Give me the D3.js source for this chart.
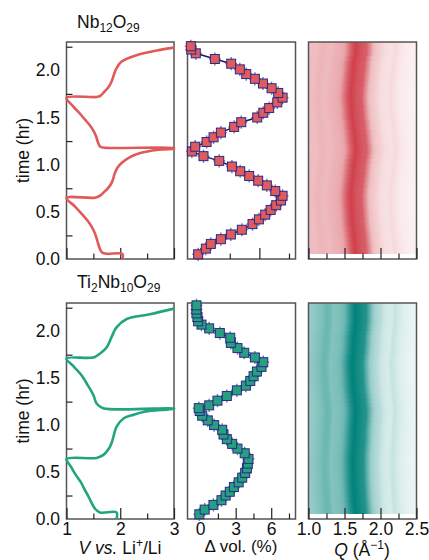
<!DOCTYPE html>
<html>
<head>
<meta charset="utf-8">
<script src="https://cdn.jsdelivr.net/npm/d3@7"></script>
<style>
  body { margin: 0; background: #fff; }
  svg { display: block; font-family: "Liberation Sans", Arial, sans-serif; }
</style>
</head>
<body>
<div id="figure"></div>
<script>
// tick values
const timeTicks = [0, 0.5, 1.0, 1.5, 2.0];
const timeMinor = [0.25, 0.75, 1.25, 1.75, 2.25];
const voltTicks = [1, 2, 3];
const voltMinor = [1.5, 2.5];
const volTicksTop = [0, 5];
const volMinorTop = [2.5, 7.5];
const volTicks = [0, 3, 6];
const volMinor = [1.5, 4.5, 7.5];
const qTicks = [1.0, 1.5, 2.0, 2.5];
const qMinor = [1.25, 1.75, 2.25];

// voltage profiles, [V, time hr]
const nbVoltage = [
  [2.04, 0.0], [2.04, 0.053], [1.75, 0.055], [1.66, 0.07], [1.62, 0.11], [1.57, 0.2], [1.53, 0.27],
  [1.47, 0.34], [1.40, 0.40], [1.28, 0.48], [1.15, 0.56], [1.0, 0.647],
  [1.53, 0.65], [1.62, 0.67], [1.70, 0.71], [1.80, 0.77], [1.85, 0.82], [1.90, 0.91], [1.95, 0.97],
  [2.03, 1.02], [2.15, 1.07], [2.3, 1.11], [2.55, 1.145], [2.8, 1.162], [3.0, 1.17],
  [3.0, 1.175], [1.75, 1.178], [1.63, 1.19], [1.59, 1.23], [1.55, 1.30], [1.50, 1.36], [1.43, 1.42],
  [1.34, 1.48], [1.25, 1.54], [1.12, 1.62], [1.0, 1.71],
  [1.56, 1.717], [1.63, 1.73], [1.70, 1.77], [1.78, 1.82], [1.83, 1.87], [1.88, 1.95], [1.92, 2.01],
  [2.02, 2.09], [2.3, 2.16], [2.68, 2.21], [3.0, 2.24]
];
const tiVoltage = [
  [1.93, 0.0], [1.93, 0.07], [1.62, 0.07], [1.53, 0.11], [1.46, 0.18], [1.40, 0.25], [1.33, 0.32],
  [1.28, 0.38], [1.16, 0.48], [1.08, 0.56], [1.0, 0.64],
  [1.56, 0.65], [1.68, 0.68], [1.75, 0.72], [1.81, 0.77], [1.85, 0.83], [1.87, 0.87], [1.93, 0.98],
  [2.06, 1.07], [2.25, 1.11], [2.43, 1.14], [2.75, 1.16], [3.0, 1.175],
  [3.0, 1.178], [1.68, 1.18], [1.56, 1.23], [1.50, 1.32], [1.40, 1.42], [1.28, 1.53], [1.14, 1.62], [1.0, 1.71],
  [1.50, 1.72], [1.62, 1.76], [1.75, 1.83], [1.84, 1.94], [1.93, 2.04], [2.12, 2.13], [2.55, 2.18], [3.0, 2.24]
];

// volume change, [time hr, dvol %]
const nbVolume = [
  [0.05, -0.17], [0.11, 0.48], [0.16, 0.90], [0.21, 1.75], [0.26, 2.59], [0.31, 3.52], [0.37, 4.42],
  [0.42, 4.96], [0.47, 5.49], [0.52, 5.95], [0.57, 6.42], [0.62, 6.82], [0.67, 6.96], [0.72, 6.34],
  [0.78, 5.63], [0.83, 4.90], [0.88, 4.14], [0.93, 3.38], [0.98, 2.68], [1.04, 1.61], [1.09, 0.28],
  [1.14, -0.70], [1.19, -0.42], [1.24, 0.54], [1.29, 1.13], [1.34, 1.75], [1.40, 2.87], [1.45, 3.47],
  [1.50, 4.82], [1.55, 5.33], [1.60, 5.83], [1.66, 6.51], [1.71, 6.96], [1.76, 6.59], [1.81, 6.03],
  [1.86, 5.30], [1.91, 4.62], [1.96, 3.89], [2.01, 3.35], [2.07, 2.62], [2.12, 1.24], [2.18, -0.37],
  [2.22, -0.75], [2.255, -0.79]
];
const tiVolume = [
  [0.05, -0.07], [0.10, 0.38], [0.15, 1.12], [0.20, 1.80], [0.25, 2.15], [0.29, 2.50], [0.34, 2.85],
  [0.39, 3.25], [0.44, 3.55], [0.49, 3.80], [0.54, 3.95], [0.59, 4.02], [0.64, 4.08], [0.70, 3.76],
  [0.75, 3.15], [0.80, 2.70], [0.85, 2.25], [0.90, 1.97], [0.95, 1.86], [1.00, 1.18], [1.05, 0.64],
  [1.10, 0.17], [1.15, -0.04], [1.18, -0.12], [1.21, 0.76], [1.26, 1.46], [1.31, 2.25], [1.37, 3.10],
  [1.42, 3.86], [1.47, 4.23], [1.52, 4.51], [1.57, 4.79], [1.62, 5.18], [1.67, 5.33], [1.72, 4.62],
  [1.77, 3.72], [1.82, 3.15], [1.875, 2.59], [1.93, 2.54], [1.98, 1.66], [2.03, 0.76], [2.07, 0.11],
  [2.105, -0.17], [2.15, -0.23], [2.19, -0.31], [2.23, -0.31], [2.275, -0.31]
];

// diffraction intensity (relative) across Q
const qGrid = [1.00, 1.05, 1.10, 1.15, 1.20, 1.25, 1.30, 1.35, 1.40, 1.45, 1.50, 1.55, 1.60, 1.65, 1.70,
  1.75, 1.80, 1.85, 1.90, 1.95, 2.00, 2.05, 2.10, 2.15, 2.20, 2.25, 2.30, 2.35, 2.40, 2.45, 2.50];
const nbIntensity = [0.32, 0.34, 0.33, 0.36, 0.38, 0.36, 0.35, 0.38, 0.40, 0.42, 0.47, 0.68, 0.86, 0.97, 0.90,
  0.85, 0.82, 0.58, 0.34, 0.28, 0.24, 0.18, 0.16, 0.15, 0.19, 0.15, 0.12, 0.10, 0.09, 0.08, 0.07];
const tiIntensity = [0.40, 0.42, 0.45, 0.48, 0.52, 0.58, 0.56, 0.48, 0.50, 0.52, 0.58, 0.74, 0.90, 1.0, 0.95,
  0.90, 0.86, 0.62, 0.40, 0.33, 0.28, 0.20, 0.17, 0.16, 0.23, 0.18, 0.14, 0.12, 0.10, 0.09, 0.08];

const width = 429;
const height = 560;
const cols = [{ x0: 66.5, x1: 174 }, { x0: 187.5, x1: 295.5 }, { x0: 308.5, x1: 416.5 }];
const rows = [{ y0: 42, y1: 259 }, { y0: 303, y1: 519 }];
const qShiftPerVol = 0.009;

const panels = [
  {
    title: [["Nb", 0], ["12", 1], ["O", 0], ["29", 1]], titleY: 28,
    line: "#e05a5a", fill: "#e05c5c", heat: "#cf3a46",
    voltage: nbVoltage, volume: nbVolume, intensity: nbIntensity,
    volMajor: volTicksTop, volMinor: volMinorTop, labels: false
  },
  {
    title: [["Ti", 0], ["2", 1], ["Nb", 0], ["10", 1], ["O", 0], ["29", 1]], titleY: 288,
    line: "#22a57f", fill: "#26a07e", heat: "#00827a",
    voltage: tiVoltage, volume: tiVolume, intensity: tiIntensity,
    volMajor: volTicks, volMinor: volMinor, labels: true
  }
];

const svg = d3.select("#figure").append("svg")
  .attr("width", width).attr("height", height);
const defs = svg.append("defs");

const xV = d3.scaleLinear().domain([1, 3]).range([cols[0].x0, cols[0].x1]);
const xVol = d3.scaleLinear().domain([-1.07, 8.05]).range([cols[1].x0, cols[1].x1]);
const xQ = d3.scaleLinear().domain([1.0, 2.5]).range([cols[2].x0, cols[2].x1]);

function styleAxis(g) {
  g.select(".domain").remove();
  g.selectAll(".tick line").attr("stroke", "#222").attr("stroke-width", 1.2);
  g.selectAll(".tick text").attr("fill", "#111").style("font-size", "17.5px")
    .style("font-family", "'Liberation Sans', Arial, sans-serif");
}

function bottomTicks(g, scale, y, major, minor, labels, fmt) {
  g.append("g").attr("transform", `translate(0,${y})`)
    .call(d3.axisBottom(scale).tickValues(major).tickSize(-11).tickPadding(3.5)
      .tickFormat(labels ? fmt : () => ""))
    .call(styleAxis);
  g.append("g").attr("transform", `translate(0,${y})`)
    .call(d3.axisBottom(scale).tickValues(minor).tickSize(-5.5).tickFormat(() => ""))
    .call(styleAxis);
}

function addFormula(text, parts) {
  let sub = false;
  parts.forEach(([s, isSub]) => {
    const dy = isSub && !sub ? 4 : (!isSub && sub ? -4 : 0);
    sub = !!isSub;
    text.append("tspan").attr("dy", dy).style("font-size", isSub ? "12px" : "17.5px").text(s);
  });
}

panels.forEach((p, pi) => {
  const r = rows[pi];
  const y = d3.scaleLinear().domain([0, 2.3]).range([r.y1, r.y0]);
  const g = svg.append("g");

  // title
  const title = g.append("text").attr("x", 77).attr("y", p.titleY).attr("fill", "#111");
  addFormula(title, p.title);

  // heat map: one row per scan, profile shifted with the lattice change
  defs.append("clipPath").attr("id", `clip${pi}`)
    .append("rect").attr("x", cols[2].x0).attr("y", r.y0)
    .attr("width", cols[2].x1 - cols[2].x0).attr("height", r.y1 - r.y0);
  const heat = g.append("g").attr("clip-path", `url(#clip${pi})`)
    .attr("shape-rendering", "crispEdges");
  const vol = p.volume;
  vol.forEach((d, i) => {
    const shift = -qShiftPerVol * d[1];
    const id = `grad${pi}_${i}`;
    const grad = defs.append("linearGradient").attr("id", id)
      .attr("gradientUnits", "userSpaceOnUse")
      .attr("x1", xQ(qGrid[0] + shift)).attr("x2", xQ(qGrid[qGrid.length - 1] + shift))
      .attr("y1", 0).attr("y2", 0);
    grad.selectAll("stop").data(p.intensity).join("stop")
      .attr("offset", (v, j) => (qGrid[j] - qGrid[0]) / (qGrid[qGrid.length - 1] - qGrid[0]))
      .attr("stop-color", p.heat)
      .attr("stop-opacity", (v) => v);
    const lo = i === 0 ? d[0] : (vol[i - 1][0] + d[0]) / 2;
    const hi = i === vol.length - 1 ? 2.35 : (d[0] + vol[i + 1][0]) / 2;
    const top = Math.round(y(hi));
    const bottom = Math.round(y(lo));
    heat.append("rect")
      .attr("x", cols[2].x0).attr("width", cols[2].x1 - cols[2].x0)
      .attr("y", top).attr("height", bottom - top)
      .attr("fill", `url(#${id})`);
  });

  // frames
  cols.forEach((c) => {
    g.append("rect").attr("x", c.x0).attr("y", r.y0)
      .attr("width", c.x1 - c.x0).attr("height", r.y1 - r.y0)
      .attr("fill", "none").attr("stroke", "#555").attr("stroke-width", 1.5);
  });

  // ticks
  const fmt1 = d3.format(".1f");
  g.append("g").attr("transform", `translate(${cols[0].x0},0)`)
    .call(d3.axisLeft(y).tickValues(timeTicks).tickSize(0).tickPadding(6.5).tickFormat(fmt1))
    .call(styleAxis);
  g.append("g").attr("transform", `translate(${cols[0].x0},0)`)
    .call(d3.axisLeft(y).tickValues(timeMinor).tickSize(-6).tickFormat(() => ""))
    .call(styleAxis);
  bottomTicks(g, xV, r.y1, voltTicks, voltMinor, p.labels, d3.format("d"));
  bottomTicks(g, xVol, r.y1, p.volMajor, p.volMinor, p.labels, d3.format("d"));
  bottomTicks(g, xQ, r.y1, qTicks, qMinor, p.labels, fmt1);

  // voltage
  g.append("path").datum(p.voltage)
    .attr("d", d3.line().curve(d3.curveCatmullRom.alpha(0.5)).x((d) => xV(d[0])).y((d) => y(d[1])))
    .attr("fill", "none").attr("stroke", p.line).attr("stroke-width", 2.6)
    .attr("stroke-linejoin", "round");

  // volume
  g.append("path").datum(vol)
    .attr("d", d3.line().x((d) => xVol(d[1])).y((d) => y(d[0])))
    .attr("fill", "none").attr("stroke", "#1b1b6e").attr("stroke-width", 1.5);
  const errs = g.append("g").attr("stroke", "#5a58b0").attr("stroke-width", 1.4).attr("opacity", 0.85);
  errs.selectAll(".ev").data(vol).join("line")
    .attr("x1", (d) => xVol(d[1])).attr("x2", (d) => xVol(d[1]))
    .attr("y1", (d) => y(d[0] + 0.07)).attr("y2", (d) => y(d[0] - 0.07));
  errs.selectAll(".eh").data(vol).join("line")
    .attr("x1", (d) => xVol(d[1] - 0.5)).attr("x2", (d) => xVol(d[1] + 0.5))
    .attr("y1", (d) => y(d[0])).attr("y2", (d) => y(d[0]));
  g.selectAll(".mark").data(vol).join("rect")
    .attr("x", (d) => xVol(d[1]) - 4.5).attr("y", (d) => y(d[0]) - 4.5)
    .attr("width", 9).attr("height", 9)
    .attr("fill", p.fill).attr("stroke", "#2a2a86").attr("stroke-width", 1);

  // y label
  g.append("text")
    .attr("transform", `translate(29,${(r.y0 + r.y1) / 2}) rotate(-90)`)
    .attr("text-anchor", "middle").style("font-size", "17.5px").attr("fill", "#111")
    .text("time (hr)");
});

// x labels
const vLab = svg.append("text").attr("x", 120).attr("y", 554)
  .attr("text-anchor", "middle").style("font-size", "17.5px").attr("fill", "#111");
vLab.append("tspan").style("font-style", "italic").text("V vs.");
vLab.append("tspan").text(" Li");
vLab.append("tspan").attr("dy", -7).style("font-size", "12px").text("+");
vLab.append("tspan").attr("dy", 7).text("/Li");

svg.append("text").attr("x", 241).attr("y", 552)
  .attr("text-anchor", "middle").style("font-size", "17px").attr("fill", "#111")
  .text("Δ vol. (%)");

const qLab = svg.append("text").attr("x", 362).attr("y", 556)
  .attr("text-anchor", "middle").style("font-size", "17.5px").attr("fill", "#111");
qLab.append("tspan").style("font-style", "italic").text("Q");
qLab.append("tspan").text(" (Å");
qLab.append("tspan").attr("dy", -7).style("font-size", "12px").text("−1");
qLab.append("tspan").attr("dy", 7).text(")");
</script>
</body>
</html>
